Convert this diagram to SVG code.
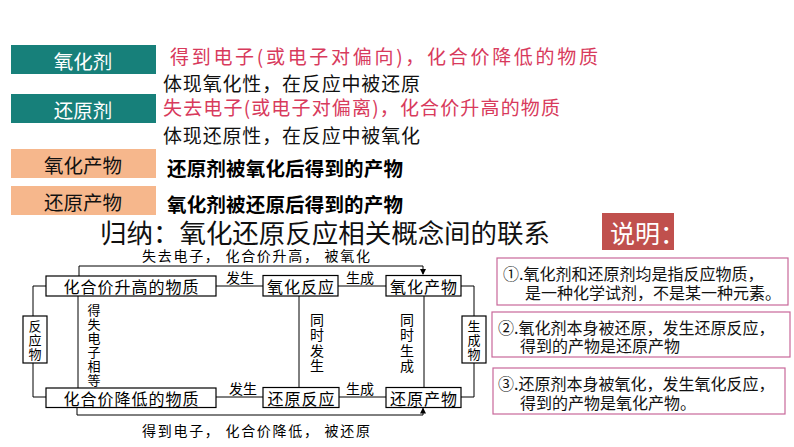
<svg xmlns="http://www.w3.org/2000/svg" width="794" height="447" viewBox="0 0 794 447">
<style>
text{font-family:"Noto Sans CJK SC","Noto Sans",sans-serif;dominant-baseline:central}
.lab{font-size:19.5px;text-anchor:middle}
.red{fill:#d83a5c;font-size:19px}
.blk{fill:#111;font-size:19px}
.bold{fill:#000;font-size:19.5px;font-weight:bold}
.nb{fill:#fff;stroke:#000;stroke-width:1.2}
.nt{font-size:16px;text-anchor:middle;fill:#000;letter-spacing:1px}
.sm{font-size:14px;fill:#000}
.vt{font-size:13px;fill:#000;writing-mode:vertical-rl;letter-spacing:1px}
.vt2{font-size:14px;fill:#000;writing-mode:vertical-rl;letter-spacing:1.5px}
.ln{fill:none;stroke:#000;stroke-width:1}
.note{fill:#fff;stroke:#c8689a;stroke-width:1.2}
.nx{font-size:16px;fill:#111}
</style>
<defs>
<marker id="ah" markerWidth="6" markerHeight="6" refX="5" refY="3" orient="auto" markerUnits="userSpaceOnUse">
<path d="M0,0 L6,3 L0,6 z" fill="#000"/>
</marker>
</defs>
<rect width="794" height="447" fill="#fff"/>

<g id="oxidant">
<rect x="11" y="45" width="145" height="29" fill="#17807a"/>
<text class="lab" x="83" y="60" fill="#fff">氧化剂</text>
</g>
<g id="reductant">
<rect x="11" y="94" width="145" height="29" fill="#17807a"/>
<text class="lab" x="83" y="109" fill="#fff">还原剂</text>
</g>
<g id="oxproduct">
<rect x="11" y="149" width="145" height="29" fill="#f6b78c"/>
<text class="lab" x="83" y="164" fill="#111">氧化产物</text>
</g>
<g id="redproduct">
<rect x="11" y="186" width="145" height="29" fill="#f6b78c"/>
<text class="lab" x="83" y="201" fill="#111">还原产物</text>
</g>

<g id="definitions">
<text class="red" x="170" y="55" textLength="428" lengthAdjust="spacing">得到电子(或电子对偏向)，化合价降低的物质</text>
<text class="blk" x="163" y="82" textLength="257" lengthAdjust="spacing">体现氧化性，在反应中被还原</text>
<text class="red" x="163" y="106" textLength="397" lengthAdjust="spacing">失去电子(或电子对偏离)，化合价升高的物质</text>
<text class="blk" x="163" y="134" textLength="257" lengthAdjust="spacing">体现还原性，在反应中被氧化</text>
<text class="bold" x="167" y="167" textLength="236" lengthAdjust="spacing">还原剂被氧化后得到的产物</text>
<text class="bold" x="167" y="203" textLength="236" lengthAdjust="spacing">氧化剂被还原后得到的产物</text>
</g>

<g id="title">
<text x="100" y="231" font-size="26.5" fill="#111" textLength="450" lengthAdjust="spacing">归纳：氧化还原反应相关概念间的联系</text>
</g>

<g id="explain-head">
<rect x="602" y="213" width="72" height="37" fill="#c0504d"/>
<text x="610" y="231.5" font-size="25" fill="#fff">说明：</text>
</g>

<g id="connectors">
<path class="ln" d="M46,286 H33 V316 M33,363 V397 H46"/>
<path class="ln" d="M461,286 H474 V316 M474,363 V397 H461"/>
<path class="ln" d="M79,276 V266 H423 V274" marker-end="url(#ah)"/>
<path class="ln" d="M77,407 V415 H423 V408.5" marker-end="url(#ah)"/>
<path class="ln" d="M216,286 H263 M338,286 H386 M216,397 H263 M339,397 H386"/>
<path class="ln" d="M78,296 V388 M299,296 V387 M424,296 V387"/>
<text class="sm" x="240" y="277" text-anchor="middle">发生</text>
<text class="sm" x="360" y="277" text-anchor="middle">生成</text>
<text class="sm" x="243" y="388" text-anchor="middle">发生</text>
<text class="sm" x="360" y="388" text-anchor="middle">生成</text>
<text class="sm" x="142" y="255" textLength="228" lengthAdjust="spacing">失去电子， 化合价升高， 被氧化</text>
<text class="sm" x="142" y="430" textLength="228" lengthAdjust="spacing">得到电子， 化合价降低， 被还原</text>
<text class="vt" x="94" y="303.5">得失电子相等</text>
<text class="vt2" x="317" y="312.5">同时发生</text>
<text class="vt2" x="407" y="312.5">同时生成</text>
</g>

<g id="n-raise">
<rect class="nb" x="46" y="276" width="170" height="20"/>
<text class="nt" x="131.5" y="286">化合价升高的物质</text>
</g>
<g id="n-oxreact">
<rect class="nb" x="263" y="275.5" width="75" height="20.5"/>
<text class="nt" x="301" y="286">氧化反应</text>
</g>
<g id="n-oxprod">
<rect class="nb" x="386" y="275.5" width="75" height="20.5"/>
<text class="nt" x="424" y="286">氧化产物</text>
</g>
<g id="n-lower">
<rect class="nb" x="46" y="388" width="170" height="19.5"/>
<text class="nt" x="131.5" y="397.5">化合价降低的物质</text>
</g>
<g id="n-redreact">
<rect class="nb" x="263" y="387.5" width="76" height="20"/>
<text class="nt" x="301.5" y="397.5">还原反应</text>
</g>
<g id="n-redprod">
<rect class="nb" x="386" y="387.5" width="75" height="20"/>
<text class="nt" x="424" y="397.5">还原产物</text>
</g>
<g id="n-reactant">
<rect class="nb" x="23" y="316" width="24" height="47"/>
<text class="vt" x="35" y="319.5" letter-spacing="1">反应物</text>
</g>
<g id="n-product">
<rect class="nb" x="462" y="316" width="24" height="47"/>
<text class="vt" x="474" y="319.5" letter-spacing="1">生成物</text>
</g>

<g id="note1">
<rect class="note" x="497" y="258" width="291" height="47"/>
<text class="nx" x="503" y="273">①.氧化剂和还原剂均是指反应物质，</text>
<text class="nx" x="525" y="292">是一种化学试剂，不是某一种元素。</text>
</g>
<g id="note2">
<rect class="note" x="492" y="312" width="298" height="45"/>
<text class="nx" x="498" y="327">②.氧化剂本身被还原，发生还原反应，</text>
<text class="nx" x="520" y="345">得到的产物是还原产物</text>
</g>
<g id="note3">
<rect class="note" x="493" y="368" width="292" height="46"/>
<text class="nx" x="498" y="383">③.还原剂本身被氧化，发生氧化反应，</text>
<text class="nx" x="520" y="402">得到的产物是氧化产物。</text>
</g>
</svg>
